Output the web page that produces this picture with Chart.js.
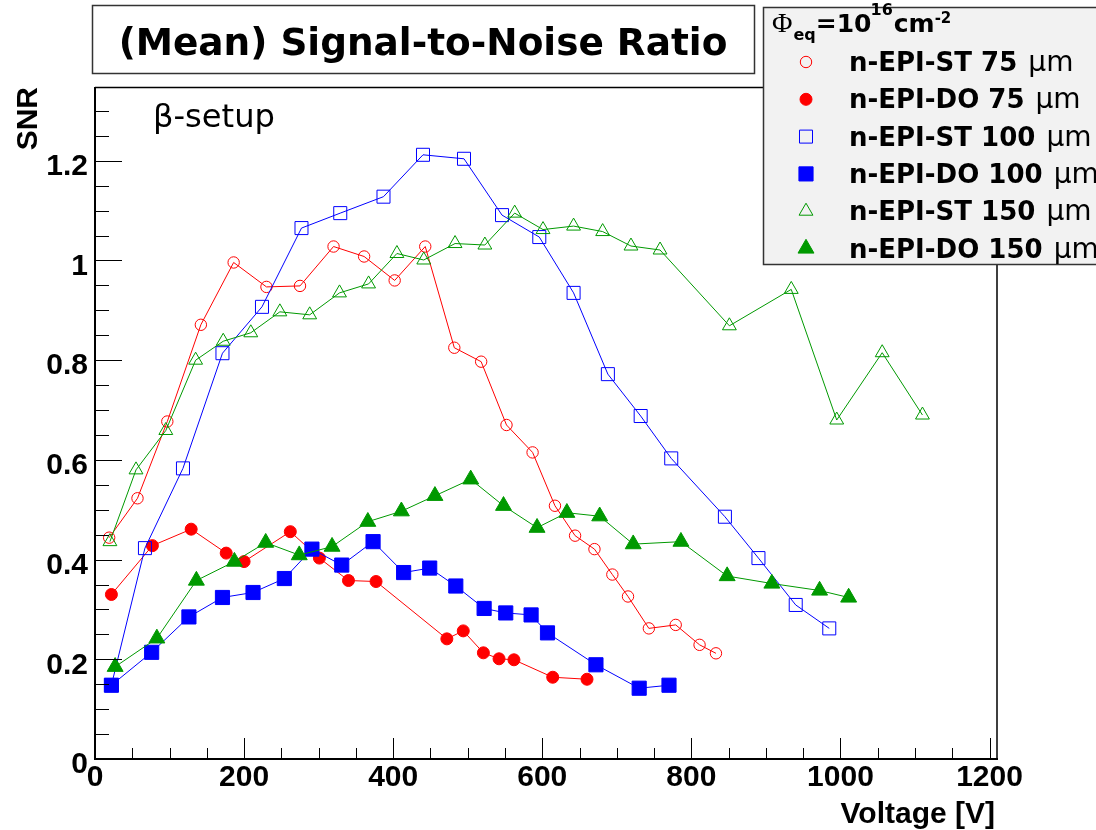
<!DOCTYPE html>
<html>
<head>
<meta charset="utf-8">
<script src="https://cdn.jsdelivr.net/npm/chart.js@4/dist/chart.umd.min.js"></script>
<style>
  html, body { margin: 0; padding: 0; background: #fff; }
  #wrap { width: 1096px; height: 830px; position: relative; }
</style>
</head>
<body>
<div id="wrap"><canvas id="snrChart"></canvas></div>
<script>
/* ==================== DATA ==================== */

// axis ticks
const xTicks = [0, 200, 400, 600, 800, 1000, 1200];
const xTickLabels = ['0', '200', '400', '600', '800', '1000', '1200'];
const yTicks = [0, 0.2, 0.4, 0.6, 0.8, 1, 1.2];
const yTickLabels = ['0', '0.2', '0.4', '0.6', '0.8', '1', '1.2'];

// n-EPI-ST 75 um
const voltST75 = [19, 57, 97, 142, 186, 230, 275, 320, 361, 402, 443, 482, 518, 552, 587, 617, 644, 670, 694, 715, 743, 779, 811, 833];
const snrST75 = [0.444, 0.523, 0.677, 0.871, 0.996, 0.947, 0.949, 1.028, 1.008, 0.960, 1.028, 0.825, 0.797, 0.670, 0.615, 0.508, 0.448, 0.421, 0.370, 0.326, 0.262, 0.269, 0.229, 0.212];

// n-EPI-DO 75 um
const voltDO75 = [22, 77, 129, 176, 200, 262, 301, 340, 377, 472, 494, 521, 542, 562, 614, 660];
const snrDO75 = [0.330, 0.428, 0.461, 0.413, 0.396, 0.456, 0.403, 0.358, 0.356, 0.241, 0.257, 0.213, 0.201, 0.199, 0.164, 0.160];

// n-EPI-ST 100 um (first point sits under the DO 100 marker)
const voltST100 = [22, 67, 118, 171, 224, 277, 329, 387, 440, 495, 546, 596, 642, 688, 732, 773, 845, 890, 940, 985];
const snrST100 = [0.148, 0.423, 0.583, 0.814, 0.907, 1.065, 1.095, 1.128, 1.212, 1.204, 1.091, 1.047, 0.935, 0.772, 0.688, 0.603, 0.486, 0.403, 0.309, 0.262];

// n-EPI-DO 100 um
const voltDO100 = [22, 76, 126, 171, 212, 254, 291, 331, 373, 414, 449, 484, 522, 551, 585, 607, 672, 730, 770];
const snrDO100 = [0.148, 0.214, 0.285, 0.324, 0.334, 0.362, 0.421, 0.389, 0.436, 0.374, 0.383, 0.347, 0.302, 0.293, 0.289, 0.253, 0.189, 0.142, 0.148];

// n-EPI-ST 150 um
const voltST150 = [20, 55, 95, 135, 172, 209, 248, 288, 328, 367, 405, 441, 483, 523, 563, 601, 642, 681, 719, 758, 851, 934, 995, 1056, 1110];
const snrST150 = [0.436, 0.580, 0.659, 0.800, 0.838, 0.855, 0.897, 0.891, 0.935, 0.953, 1.014, 1.001, 1.034, 1.031, 1.095, 1.062, 1.069, 1.058, 1.029, 1.021, 0.869, 0.942, 0.680, 0.815, 0.690];

// n-EPI-DO 150 um
const voltDO150 = [27, 83, 136, 187, 229, 274, 318, 366, 411, 456, 504, 548, 593, 633, 677, 722, 786, 848, 908, 972, 1011];
const snrDO150 = [0.185, 0.242, 0.358, 0.396, 0.434, 0.409, 0.426, 0.476, 0.497, 0.528, 0.561, 0.508, 0.464, 0.494, 0.487, 0.431, 0.436, 0.367, 0.352, 0.338, 0.324];

/* ==================== STYLE ==================== */

const RED = '#ff0000';
const BLUE = '#0000ff';
const GREEN = '#009900';
const HOLLOW = 'rgba(0,0,0,0)';

// one entry per series, in legend order
const series = [
    { label: 'n-EPI-ST 75 ', x: voltST75, y: snrST75, color: RED, style: 'circle', radius: 5.7, filled: false },
    { label: 'n-EPI-DO 75 ', x: voltDO75, y: snrDO75, color: RED, style: 'circle', radius: 6, filled: true },
    { label: 'n-EPI-ST 100 ', x: voltST100, y: snrST100, color: BLUE, style: 'rect', radius: 9.2, filled: false },
    { label: 'n-EPI-DO 100 ', x: voltDO100, y: snrDO100, color: BLUE, style: 'rect', radius: 10, filled: true },
    { label: 'n-EPI-ST 150 ', x: voltST150, y: snrST150, color: GREEN, style: 'triangle', radius: 8, filled: false },
    { label: 'n-EPI-DO 150 ', x: voltDO150, y: snrDO150, color: GREEN, style: 'triangle', radius: 9.2, filled: true }
];

// plot frame in pixels
const FRAME = { left: 95, right: 997, top: 87, bottom: 759 };
const X_MAX = 1210;
const Y_MAX = 1.348;

/* ==================== PLUGINS ==================== */

// frame with inward ticks (ROOT style)
const frameTicks = {
    id: 'frameTicks',
    afterDatasetsDraw(chart) {
        const { ctx, chartArea: a, scales: { x, y } } = chart;
        ctx.save();
        ctx.strokeStyle = '#000';
        ctx.lineWidth = 1;
        ctx.beginPath();
        // x ticks
        const xStep = xTicks[1] - xTicks[0];
        xTicks.forEach(v => {
            const px = Math.round(x.getPixelForValue(v)) + 0.5;
            ctx.moveTo(px, a.bottom); ctx.lineTo(px, a.bottom - 21);
            for (let k = 1; k < 4; k++) {
                const m = v + k * xStep / 4;
                if (m > X_MAX) break;
                const mx = Math.round(x.getPixelForValue(m)) + 0.5;
                ctx.moveTo(mx, a.bottom); ctx.lineTo(mx, a.bottom - 11);
            }
        });
        // y ticks
        const yStep = yTicks[1] - yTicks[0];
        yTicks.forEach(v => {
            const py = Math.round(y.getPixelForValue(v)) + 0.5;
            ctx.moveTo(a.left, py); ctx.lineTo(a.left + 27, py);
            for (let k = 1; k < 4; k++) {
                const m = v + k * yStep / 4;
                if (m > Y_MAX) break;
                const my = Math.round(y.getPixelForValue(m)) + 0.5;
                ctx.moveTo(a.left, my); ctx.lineTo(a.left + 14, my);
            }
        });
        ctx.stroke();

        // frame
        ctx.lineWidth = 1.5;
        ctx.beginPath();
        ctx.moveTo(a.left, a.top + 0.5); ctx.lineTo(a.right, a.top + 0.5);
        ctx.lineTo(a.right, a.bottom);
        ctx.stroke();
        ctx.lineWidth = 2;
        ctx.beginPath();
        ctx.moveTo(a.left, a.top); ctx.lineTo(a.left, a.bottom);
        ctx.lineTo(a.right + 1, a.bottom);
        ctx.stroke();
        ctx.restore();
    }
};

// fit a font size so the text takes a given width
function fitFont(ctx, text, width, weight, family) {
    ctx.font = `${weight} 100px ${family}`;
    return 100 * width / ctx.measureText(text).width;
}

// titles, labels and the legend box
const annotations = {
    id: 'annotations',
    afterDraw(chart) {
        const ctx = chart.ctx;
        ctx.save();

        // title box
        ctx.fillStyle = '#fff';
        ctx.fillRect(92, 5, 662, 69);
        ctx.strokeStyle = '#333';
        ctx.lineWidth = 1.5;
        ctx.strokeRect(92.5, 5.5, 662, 68);
        const title = '(Mean) Signal-to-Noise Ratio';
        const tSize = fitFont(ctx, title, 609, 'bold', '"DejaVu Sans"');
        ctx.font = `bold ${tSize}px "DejaVu Sans"`;
        ctx.fillStyle = '#000';
        ctx.textAlign = 'center';
        ctx.textBaseline = 'alphabetic';
        ctx.fillText(title, 423, 55);

        // beta-setup
        const beta = 'β-setup';
        const bSize = fitFont(ctx, beta, 122, 'normal', '"DejaVu Sans"');
        ctx.font = `normal ${bSize}px "DejaVu Sans"`;
        ctx.textAlign = 'left';
        ctx.fillText(beta, 153, 127);

        // axis titles
        ctx.font = 'bold 30px "Liberation Sans"';
        ctx.textAlign = 'right';
        ctx.fillText('Voltage [V]', 995, 823);
        ctx.save();
        ctx.translate(37, 87);
        ctx.rotate(-Math.PI / 2);
        ctx.fillText('SNR', 0, 0);
        ctx.restore();

        // legend box
        ctx.fillStyle = '#f2f2f2';
        ctx.fillRect(763, 7, 340, 258);
        ctx.strokeStyle = '#333';
        ctx.lineWidth = 1.5;
        ctx.strokeRect(763.5, 7.5, 340, 257);

        // legend header: Phi_eq = 10^16 cm^-2
        ctx.fillStyle = '#000';
        ctx.textAlign = 'left';
        let hx = 772;
        const parts = [
            { t: 'Φ', f: 'normal 28px "Liberation Serif"', dy: 0, gap: 1 },
            { t: 'eq', f: 'bold 16px "DejaVu Sans"', dy: 8, gap: 0 },
            { t: '=10', f: 'bold 25px "DejaVu Sans"', dy: 0, gap: -1 },
            { t: '16', f: 'bold 16px "DejaVu Sans"', dy: -17, gap: 1 },
            { t: 'cm', f: 'bold 25px "DejaVu Sans"', dy: 0, gap: 0 },
            { t: '-2', f: 'bold 15px "DejaVu Sans"', dy: -9, gap: 0 }
        ];
        parts.forEach(p => {
            ctx.font = p.f;
            ctx.fillText(p.t, hx, 32 + p.dy);
            hx += ctx.measureText(p.t).width + p.gap;
        });

        // legend rows
        series.forEach((s, i) => {
            const rowY = 62 + i * 37.3;
            ctx.strokeStyle = s.color;
            ctx.fillStyle = s.filled ? s.color : HOLLOW;
            ctx.lineWidth = 1;
            Chart.helpers.drawPoint(ctx, {
                pointStyle: s.style, radius: s.radius, rotation: 0, borderWidth: 1
            }, 806, rowY);
            ctx.fillStyle = '#000';
            ctx.font = 'bold 26px "DejaVu Sans"';
            ctx.fillText(s.label, 849, rowY + 9);
            const w = ctx.measureText(s.label).width;
            ctx.font = 'normal 28px "DejaVu Sans"';
            ctx.fillText('μm', 849 + w + 2, rowY + 9);
        });

        ctx.restore();
    }
};

/* ==================== CHART ==================== */

function initSnrChart() {
    const ctx = document.getElementById('snrChart');

    const datasets = series.map((s, i) => ({
        label: s.label + 'μm',
        data: s.x.map((v, j) => ({ x: v, y: s.y[j] })),
        showLine: true,
        borderColor: s.color,
        borderWidth: 1,
        pointStyle: s.style,
        pointRadius: s.radius,
        pointBorderWidth: 1,
        pointBorderColor: s.color,
        pointBackgroundColor: s.filled ? s.color : HOLLOW,
        backgroundColor: s.filled ? s.color : HOLLOW,
        order: series.length - i   // later series on top, like ROOT
    }));

    return new Chart(ctx, {
        type: 'scatter',
        data: { datasets },
        options: {
            responsive: true,
            maintainAspectRatio: false,
            animation: false,
            layout: {
                padding: { left: 0, top: FRAME.top, right: 1096 - FRAME.right, bottom: 0 }
            },
            plugins: {
                legend: { display: false },
                tooltip: { enabled: false },
                title: { display: false }
            },
            scales: {
                x: {
                    type: 'linear',
                    min: 0,
                    max: X_MAX,
                    grid: { display: false, drawTicks: false },
                    border: { display: false },
                    afterBuildTicks: scale => { scale.ticks = xTicks.map(v => ({ value: v })); },
                    afterFit: scale => { scale.height = 830 - FRAME.bottom; },
                    ticks: {
                        autoSkip: false,
                        maxRotation: 0,
                        padding: 1,
                        color: '#000',
                        font: { family: '"Liberation Sans"', size: 30, weight: 'bold', lineHeight: 1.2 },
                        callback: (value, index) => xTickLabels[index]
                    }
                },
                y: {
                    type: 'linear',
                    min: 0,
                    max: Y_MAX,
                    grid: { display: false, drawTicks: false },
                    border: { display: false },
                    afterBuildTicks: scale => { scale.ticks = yTicks.map(v => ({ value: v })); },
                    afterFit: scale => { scale.width = FRAME.left; },
                    ticks: {
                        autoSkip: false,
                        padding: 7,
                        labelOffset: 6,
                        color: '#000',
                        font: { family: '"Liberation Sans"', size: 30, weight: 'bold' },
                        callback: (value, index) => yTickLabels[index]
                    }
                }
            }
        },
        plugins: [frameTicks, annotations]
    });
}

document.addEventListener('DOMContentLoaded', initSnrChart);
</script>
</body>
</html>
